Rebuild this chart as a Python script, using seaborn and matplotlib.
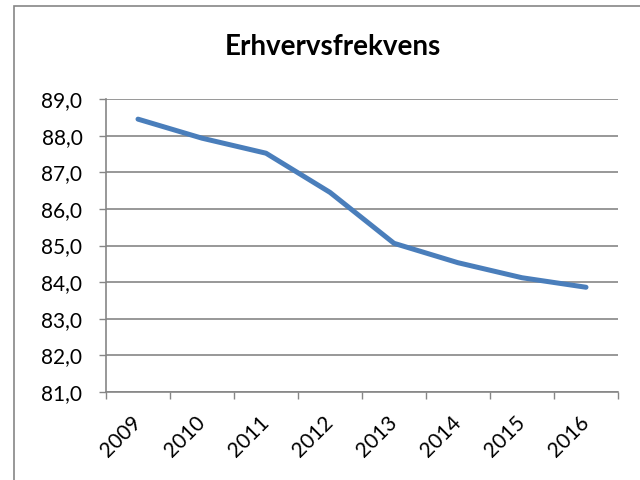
"""
plot.py
Erhvervsfrekvens 2009-2016, Excel-style line chart.
"""

import numpy as np
import pandas as pd
import matplotlib
matplotlib.use("Agg")
import matplotlib.pyplot as plt
import matplotlib.ticker as mticker
from matplotlib.patches import Rectangle
import seaborn as sns

# ── Data ─────────────────────────────────────────────────────────────────────

years = ["2009", "2010", "2011", "2012", "2013", "2014", "2015", "2016"]
erhvervsfrekvens = [88.45, 87.93, 87.52, 86.45, 85.06, 84.53, 84.12, 83.86]
y_ticks = [81, 82, 83, 84, 85, 86, 87, 88, 89]

# ── Style ────────────────────────────────────────────────────────────────────

sns.set_style("white")
plt.rcParams["font.family"] = ["Lato", "DejaVu Sans"]
plt.rcParams["text.color"] = "black"
plt.rcParams["xtick.labelcolor"] = "black"
plt.rcParams["ytick.labelcolor"] = "black"

GRID = "#868686"
LINE = "#4A7EBB"

df = pd.DataFrame({"idx": np.arange(len(years)), "value": erhvervsfrekvens})

fig = plt.figure(figsize=(6.4, 4.8), dpi=100)
ax = fig.add_axes([106 / 640, 1 - 392 / 480, 512 / 640, 293 / 480])

sns.lineplot(data=df, x="idx", y="value", ax=ax, color=LINE, linewidth=3.6,
             solid_capstyle="round", solid_joinstyle="round")

# y axis
ax.set_ylim(y_ticks[0], y_ticks[-1])
ax.set_yticks(y_ticks)
ax.yaxis.set_major_formatter(mticker.FuncFormatter(lambda v, _: f"{v:.1f}".replace(".", ",")))
ax.grid(axis="y", color=GRID, linewidth=1.2)
ax.tick_params(axis="y", direction="out", length=5, width=1, color=GRID,
               labelsize=15, labelcolor="black", pad=12, left=True)

# x axis: category boundaries carry the tick marks, labels sit at centres
ax.set_xlim(-0.5, len(years) - 0.5)
ax.set_xticks(np.arange(len(years)))
ax.set_xticklabels(years, rotation=45, ha="right", va="center",
                   rotation_mode="anchor")
ax.set_xticks(np.arange(len(years) + 1) - 0.5, minor=True)
ax.tick_params(axis="x", which="major", length=0, labelsize=15,
               labelcolor="black", pad=20)
ax.tick_params(axis="x", which="minor", direction="out", length=5, width=1,
               color=GRID, bottom=True)
ax.set_xlabel("")
ax.set_ylabel("")

for side in ["top", "right"]:
    ax.spines[side].set_visible(False)
for side in ["left", "bottom"]:
    ax.spines[side].set_color(GRID)
    ax.spines[side].set_linewidth(1.2)

fig.text(333 / 640, 1 - 47 / 480, "Erhvervsfrekvens", ha="center", va="center",
         fontsize=20, fontweight="bold", color="black")

# chart border
fig.patches.append(Rectangle((14 / 640, -0.01), 1.0, 1 - 6 / 480 + 0.01,
                             transform=fig.transFigure, fill=False,
                             edgecolor=GRID, linewidth=1.2))

fig.savefig("out.png", dpi=100)
